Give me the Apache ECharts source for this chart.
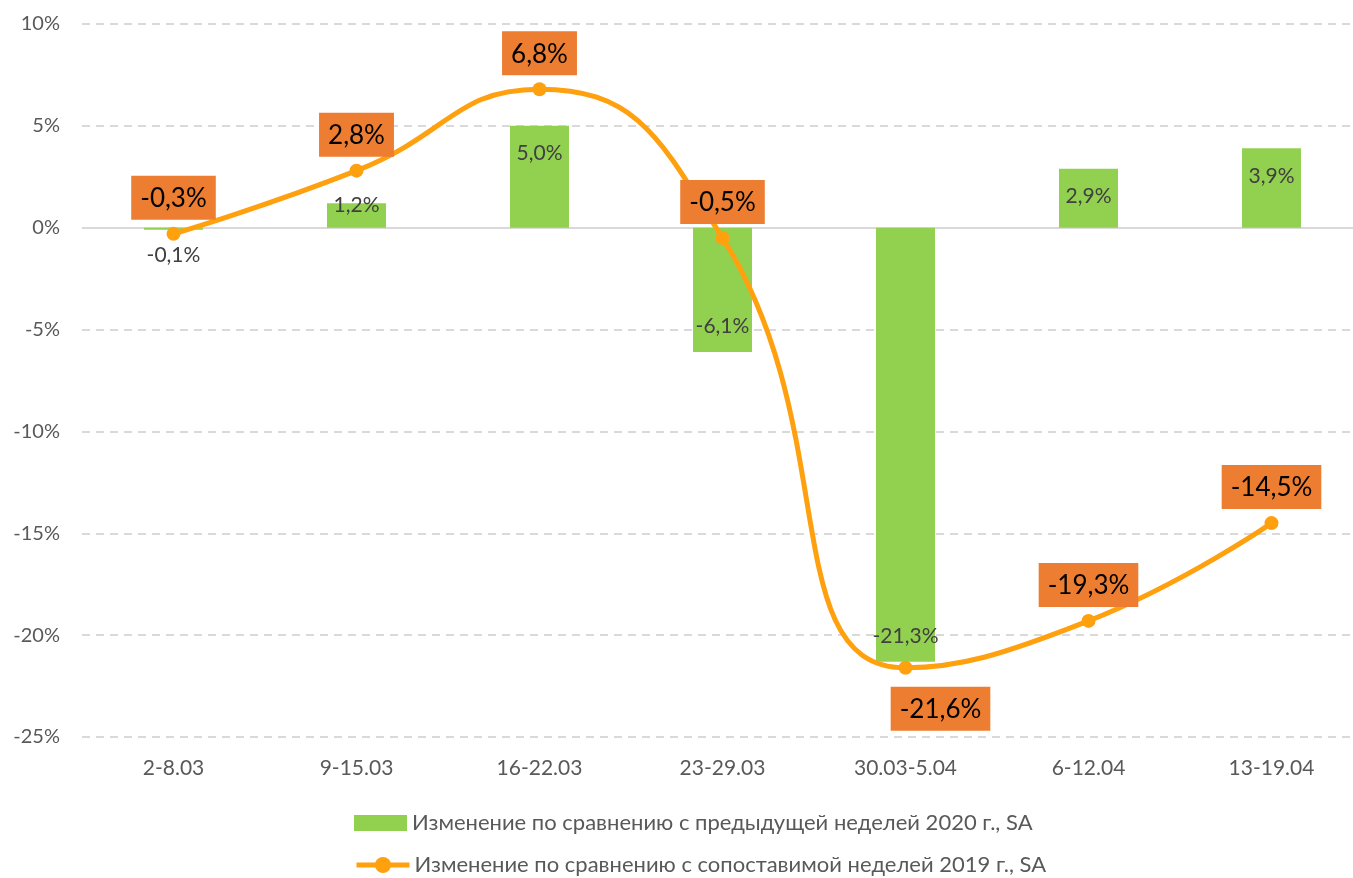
<!DOCTYPE html>
<html>
<head>
<meta charset="utf-8">
<script src="https://cdn.jsdelivr.net/npm/echarts@6/dist/echarts.min.js"></script>
<style>
  html, body { margin: 0; padding: 0; background: #fff; overflow: hidden; }
  #chart { width: 1363px; height: 878px; }
</style>
</head>
<body>
<div id="chart"></div>
<script>
const weeks = ['2-8.03', '9-15.03', '16-22.03', '23-29.03', '30.03-5.04', '6-12.04', '13-19.04'];
const weekChange = [-0.1, 1.2, 5.0, -6.1, -21.3, 2.9, 3.9];
const yearChange = [-0.3, 2.8, 6.8, -0.5, -21.6, -19.3, -14.5];
const barName = 'Изменение по сравнению с предыдущей неделей 2020 г., SA';
const lineName = 'Изменение по сравнению с сопоставимой неделей 2019 г., SA';

const fontFamily = 'Lato, "Noto Sans", sans-serif';
const fmt = v => v.toFixed(1).replace('.', ',') + '%';

// bar labels: inside the end of the bar, except the tiny ones
const barData = weekChange.map((v, i) => {
  let label;
  if (v >= 0 && v < 2) label = { position: 'top', distance: -12 };
  else if (v < 0 && v > -2) label = { position: 'bottom', distance: 15 };
  else if (v >= 0) label = { position: 'insideTop', distance: 17 };
  else label = { position: 'insideBottom', distance: 15 };
  return { value: v, label };
});

const lineData = yearChange.map((v, i) => {
  if (i === 4) return { value: v, label: { position: 'bottom', distance: 12, offset: [35, 0] } };
  return { value: v };
});

const legendText = { color: '#595959', fontSize: 22, fontFamily };

const chart = echarts.init(document.getElementById('chart'));
chart.setOption({
  animation: false,
  textStyle: { fontFamily },
  grid: { left: 82, right: 0, top: 24, bottom: 141, containLabel: false },
  legend: [
    {
      left: 354,
      top: 812,
      padding: 0,
      itemWidth: 53,
      itemHeight: 16,
      textStyle: legendText,
      data: [{ name: barName, icon: 'rect' }]
    },
    {
      left: 354,
      top: 854,
      padding: 0,
      itemWidth: 53,
      itemHeight: 20,
      textStyle: legendText,
      lineStyle: { width: 5 },
      data: [{ name: lineName }]
    }
  ],
  xAxis: {
    type: 'category',
    data: weeks,
    axisLine: { show: false },
    axisTick: { show: false },
    axisLabel: { color: '#595959', fontSize: 21, margin: 21 }
  },
  yAxis: {
    type: 'value',
    min: -25,
    max: 10,
    interval: 5,
    axisLine: { show: false },
    axisTick: { show: false },
    axisLabel: { color: '#595959', fontSize: 20, margin: 22, formatter: v => v + '%' },
    splitLine: { lineStyle: { color: '#d9d9d9', width: 2, type: [8, 6] } }
  },
  series: [
    {
      name: barName,
      type: 'bar',
      barWidth: 59,
      itemStyle: { color: '#92d050' },
      label: {
        show: true,
        color: '#404040',
        fontSize: 21,
        formatter: p => fmt(p.value)
      },
      markLine: {
        silent: true,
        symbol: 'none',
        label: { show: false },
        lineStyle: { color: '#d9d9d9', width: 2, type: 'solid' },
        data: [{ yAxis: 0 }],
        z: 1
      },
      data: barData
    },
    {
      name: lineName,
      type: 'line',
      smooth: 0.5,
      symbol: 'circle',
      symbolSize: 14,
      z: 5,
      itemStyle: { color: '#ffa00f' },
      lineStyle: { color: '#ffa00f', width: 5 },
      label: {
        show: true,
        position: 'top',
        distance: 7,
        color: '#000',
        fontSize: 26,
        backgroundColor: '#ed7d31',
        padding: [10, 9, 8, 9],
        formatter: p => fmt(p.value)
      },
      data: lineData
    }
  ]
});
</script>
</body>
</html>
